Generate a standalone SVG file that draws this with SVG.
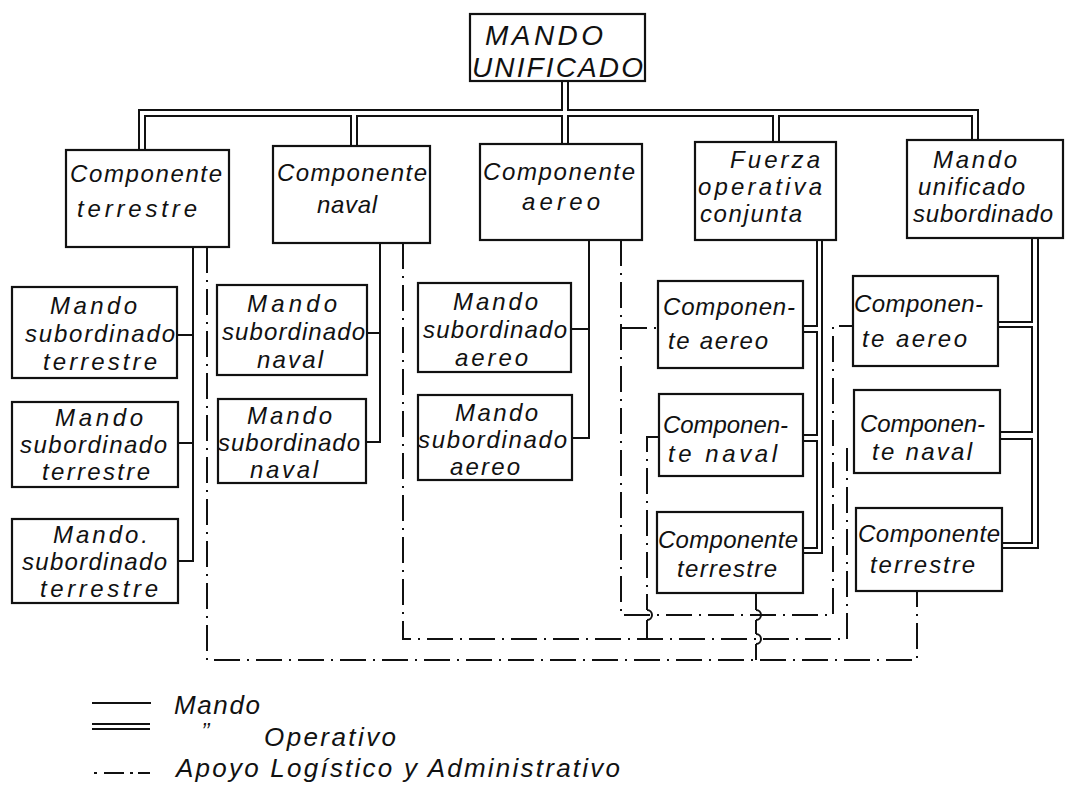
<svg xmlns="http://www.w3.org/2000/svg" width="1067" height="789" viewBox="0 0 1067 789">
<style>
rect.b{fill:#fff;stroke:#111;stroke-width:2.2}
text{font-family:"Liberation Sans",Arial,sans-serif;font-style:italic;font-size:24px;fill:#111}
text.big{font-size:28px}
text.lg{font-size:26px}
.op,.cmd,.hop{fill:none;stroke:#111;stroke-width:2}
.sup{fill:none;stroke:#111;stroke-width:2;stroke-dasharray:26 7 2 7}
</style>
<rect width="1067" height="789" fill="#fff"/>
<g id="connectors">
<path class="op" d="M562,81 V110 H139 V150 M568,81 V110 H978 V140 M145,150 V116 H351 V146 M357,146 V116 H562 V144 M568,144 V116 H773 V142 M779,142 V116 H972 V140"/>
<path class="op" d="M817,240 V326 H803 M803,332 H817 V435 H803 M803,441 H817 V548 H803 M822,240 V553 H803"/>
<path class="op" d="M1032,238 V322 H998 M998,327 H1032 V432 H1000 M1000,439 H1032 V543 H1002 M1038,238 V548 H1002"/>
<path class="cmd" d="M193,247 V561 H178 M177,335 H193 M178,443 H193 M380,243 V442 H366 M367,333 H380 M589,240 V438 H572 M571,329 H589"/>
<path class="sup" d="M207,247 V660 H917 V591"/>
<path class="sup" d="M621,240 V615 H833 V326 H853"/>
<path class="sup" d="M621,328 H658"/>
<path class="sup" d="M403,243 V639 H847 V448"/>
<path class="sup" d="M658,437 H647 V610 M647,620 V639"/>
<path class="sup" d="M756,593 V610 M756,620 V634 M756,644 V660"/>
<path class="hop" d="M647,610 A5,5 0 0 1 647,620 M756,610 A5,5 0 0 1 756,620 M756,634 A5,5 0 0 1 756,644"/>
</g>
<g id="mando-unificado"><rect class="b" x="470" y="14" width="175" height="67"/><text class="big" x="485" y="45" textLength="118">MANDO</text><text class="big" x="472" y="77" textLength="171">UNIFICADO</text></g>
<g id="componente-terrestre"><rect class="b" x="66" y="150" width="163" height="97"/><text x="70" y="182" textLength="152">Componente</text><text x="77" y="217" textLength="120">terrestre</text></g>
<g id="componente-naval"><rect class="b" x="273" y="146" width="157" height="97"/><text x="277" y="181" textLength="150">Componente</text><text x="317" y="213" textLength="60">naval</text></g>
<g id="componente-aereo"><rect class="b" x="480" y="144" width="162" height="96"/><text x="483" y="180" textLength="152">Componente</text><text x="522" y="210" textLength="78">aereo</text></g>
<g id="fuerza-operativa"><rect class="b" x="695" y="142" width="141" height="98"/><text x="730" y="168" textLength="90">Fuerza</text><text x="698" y="195" textLength="124">operativa</text><text x="700" y="222" textLength="102">conjunta</text></g>
<g id="mando-unificado-subordinado"><rect class="b" x="907" y="140" width="156" height="98"/><text x="933" y="168" textLength="84">Mando</text><text x="918" y="195" textLength="107">unificado</text><text x="913" y="222" textLength="140">subordinado</text></g>
<g id="mst1"><rect class="b" x="12" y="287" width="165" height="91"/><text x="50" y="314" textLength="87">Mando</text><text x="25" y="342" textLength="150">subordinado</text><text x="43" y="370" textLength="114">terrestre</text></g>
<g id="mst2"><rect class="b" x="12" y="402" width="166" height="85"/><text x="55" y="426" textLength="88">Mando</text><text x="20" y="453" textLength="147">subordinado</text><text x="42" y="480" textLength="108">terrestre</text></g>
<g id="mst3"><rect class="b" x="12" y="519" width="166" height="84"/><text x="53" y="543" textLength="95">Mando.</text><text x="22" y="570" textLength="145">subordinado</text><text x="40" y="597" textLength="118">terrestre</text></g>
<g id="msn1"><rect class="b" x="217" y="285" width="150" height="90"/><text x="247" y="312" textLength="90">Mando</text><text x="222" y="340" textLength="143">subordinado</text><text x="257" y="368" textLength="66">naval</text></g>
<g id="msn2"><rect class="b" x="218" y="399" width="148" height="84"/><text x="247" y="424" textLength="85">Mando</text><text x="218" y="451" textLength="142">subordinado</text><text x="250" y="478" textLength="68">naval</text></g>
<g id="msa1"><rect class="b" x="418" y="283" width="153" height="89"/><text x="453" y="310" textLength="85">Mando</text><text x="423" y="338" textLength="144">subordinado</text><text x="455" y="366" textLength="73">aereo</text></g>
<g id="msa2"><rect class="b" x="418" y="395" width="154" height="85"/><text x="455" y="421" textLength="83">Mando</text><text x="418" y="448" textLength="149">subordinado</text><text x="450" y="475" textLength="70">aereo</text></g>
<g id="foc-aereo"><rect class="b" x="658" y="281" width="145" height="87"/><text x="663" y="315" textLength="132">Componen-</text><text x="668" y="349" textLength="100">te aereo</text></g>
<g id="foc-naval"><rect class="b" x="659" y="394" width="144" height="82"/><text x="663" y="433" textLength="125">Componen-</text><text x="668" y="462" textLength="109">te naval</text></g>
<g id="foc-terrestre"><rect class="b" x="657" y="512" width="146" height="81"/><text x="658" y="548" textLength="140">Componente</text><text x="677" y="577" textLength="100">terrestre</text></g>
<g id="mus-aereo"><rect class="b" x="853" y="276" width="145" height="90"/><text x="854" y="312" textLength="129">Componen-</text><text x="862" y="347" textLength="105">te aereo</text></g>
<g id="mus-naval"><rect class="b" x="854" y="390" width="146" height="83"/><text x="860" y="432" textLength="125">Componen-</text><text x="872" y="460" textLength="100">te naval</text></g>
<g id="mus-terrestre"><rect class="b" x="856" y="508" width="146" height="83"/><text x="858" y="542" textLength="142">Componente</text><text x="870" y="573" textLength="105">terrestre</text></g>
<g id="legend">
<path class="cmd" d="M92,703 H151"/>
<path class="op" d="M92,724 H150 M92,729 H150"/>
<path class="cmd" d="M94,773 H97 M104,773 H124 M130,773 H133 M138,773 H150"/>
<text class="lg" x="174" y="714" textLength="86">Mando</text>
<text x="201" y="738" style="font-size:22px">’’</text>
<text class="lg" x="264" y="746" textLength="132">Operativo</text>
<text class="lg" x="176" y="777" textLength="444">Apoyo Logístico y Administrativo</text>
</g>
</svg>
